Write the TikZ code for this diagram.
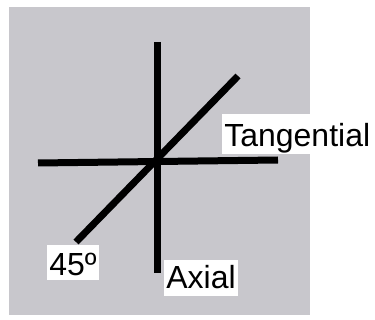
\documentclass[tikz,border=0pt]{standalone}
\usepackage{fontspec}
\setmainfont{Liberation Sans}
\usetikzlibrary{positioning}
\definecolor{panelGray}{RGB}{200,199,204}

\begin{document}
\begin{tikzpicture}[x=0.02cm, y=-0.02cm, font=\fontsize{18.2}{20}\selectfont,
    axisline/.style={line width=0.14cm},
    tag/.style={fill=white, inner sep=0pt, inner xsep=0.04cm, anchor=base west}]
        \useasboundingbox (0,0) rectangle (375,320);
        % Fondo gris
        \fill[panelGray] (9,7) rectangle (310,315);
        % Extremos de los ejes
        \coordinate (axTop) at (157,42);
        \coordinate (axBot) at (157,273);
        \coordinate (tgLeft) at (38,163);
        \coordinate (tgRight) at (278,160);
        \coordinate (dgLow) at (76,242);
        \coordinate (dgHigh) at (238,76);
        \draw[axisline] (axTop) -- (axBot);
        \draw[axisline] (tgLeft) -- (tgRight);
        \draw[axisline] (dgLow) -- (dgHigh);
        % Etiquetas
        \node[tag, text height=0.66cm, text depth=0.14cm] (tgLabel) at (222,147) {Tangential};
        \node[tag, text height=0.62cm, text depth=0.08cm] (dgLabel) at (47,276) {45º};
        \node[tag, text height=0.58cm, text depth=0.14cm] (axLabel) at (164,289) {Axial};
\end{tikzpicture}
\end{document}
